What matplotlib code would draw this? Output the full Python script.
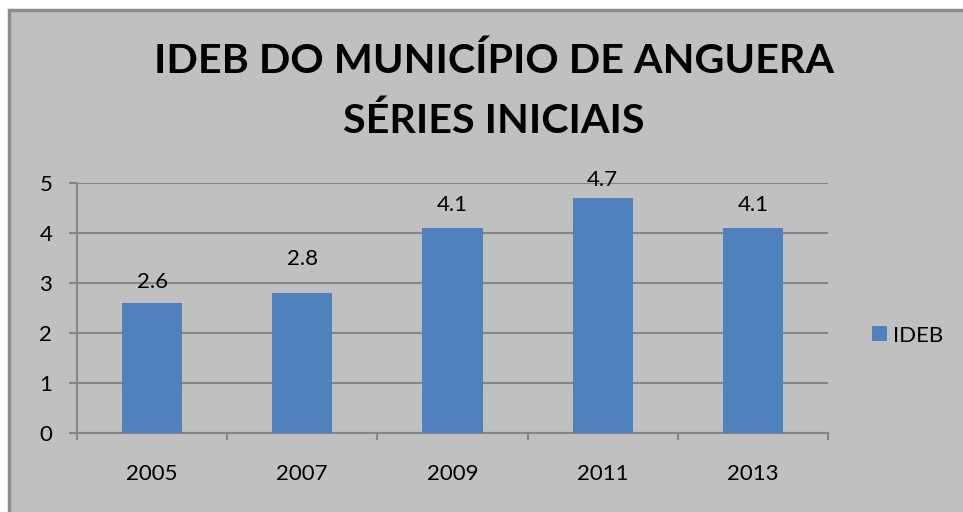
import matplotlib.pyplot as plt
from matplotlib.patches import Rectangle

anos = ['2005', '2007', '2009', '2011', '2013']
ideb = [2.6, 2.8, 4.1, 4.7, 4.1]
rotulos = ['2.6', '2.8', '4.1', '4.7', '4.1']

fundo = '#c0c0c0'
azul = '#4f81bd'
cinza = '#868686'

# distance (pt) between bar top and label baseline, as Excel placed them
desloc_rotulo = [10.8, 20.2, 12.2, 8.6, 12.2]

plt.rcParams['font.family'] = ['Lato', 'DejaVu Sans']

fig = plt.figure(figsize=(9.63, 5.12), dpi=100)
fig.patch.set_facecolor('white')
# chart area: border only visible on left and top, rest runs off the image
fig.patches.append(Rectangle((9 / 963, -0.2), 1.2, 1.2 - 10 / 512, transform=fig.transFigure,
                             facecolor=fundo, edgecolor='#8c8c8c', linewidth=2.5, zorder=-1))

ax = fig.add_axes([77 / 963, 1 - 433 / 512, 751 / 963, 250 / 512])
ax.set_facecolor(fundo)
x = range(len(anos))
bars = ax.bar(x, ideb, width=0.4, color=azul, zorder=3, label='IDEB')
for i, v in enumerate(ideb):
    ax.annotate(rotulos[i], (i, v), xytext=(0, desloc_rotulo[i]), textcoords='offset points',
                ha='center', va='baseline', fontsize=16, zorder=4)

ax.set_xlim(-0.5, len(anos) - 0.5)
ax.set_ylim(0, 5)
ax.set_yticks(range(6))
ax.yaxis.grid(True, color=cinza, linewidth=1.5, zorder=0)
ax.set_axisbelow(True)
for s in ['top', 'right']:
    ax.spines[s].set_visible(False)
for s in ['left', 'bottom']:
    ax.spines[s].set_color(cinza)
    ax.spines[s].set_linewidth(1.5)
ax.set_xticks([i - 0.5 for i in range(len(anos) + 1)], minor=False)
ax.set_xticklabels([])
ax.set_xticks(list(x), minor=True)
ax.set_xticklabels(anos, minor=True, fontsize=16)
ax.tick_params(axis='x', which='major', length=5, width=1.5, color=cinza, direction='out')
ax.tick_params(axis='x', which='minor', length=0, pad=22)
ax.tick_params(axis='y', length=5.8, width=1.5, color=cinza, labelsize=16, pad=12)

fig.text(494 / 963, 1 - 73 / 512, 'IDEB DO MUNICÍPIO DE ANGUERA', ha='center', va='baseline',
         fontsize=29.7, fontweight='bold')
fig.text(494 / 963, 1 - 133 / 512, 'SÉRIES INICIAIS', ha='center', va='baseline',
         fontsize=29.7, fontweight='bold')

fig.legend(handles=[bars], labels=['IDEB'], loc='center left',
           bbox_to_anchor=(872 / 963, 1 - 335.5 / 512), bbox_transform=fig.transFigure,
           frameon=False, fontsize=16, borderpad=0, borderaxespad=0,
           handlelength=0.68, handleheight=0.68, handletextpad=0.27)

fig.savefig('out.png', dpi=100, facecolor=fig.get_facecolor())
